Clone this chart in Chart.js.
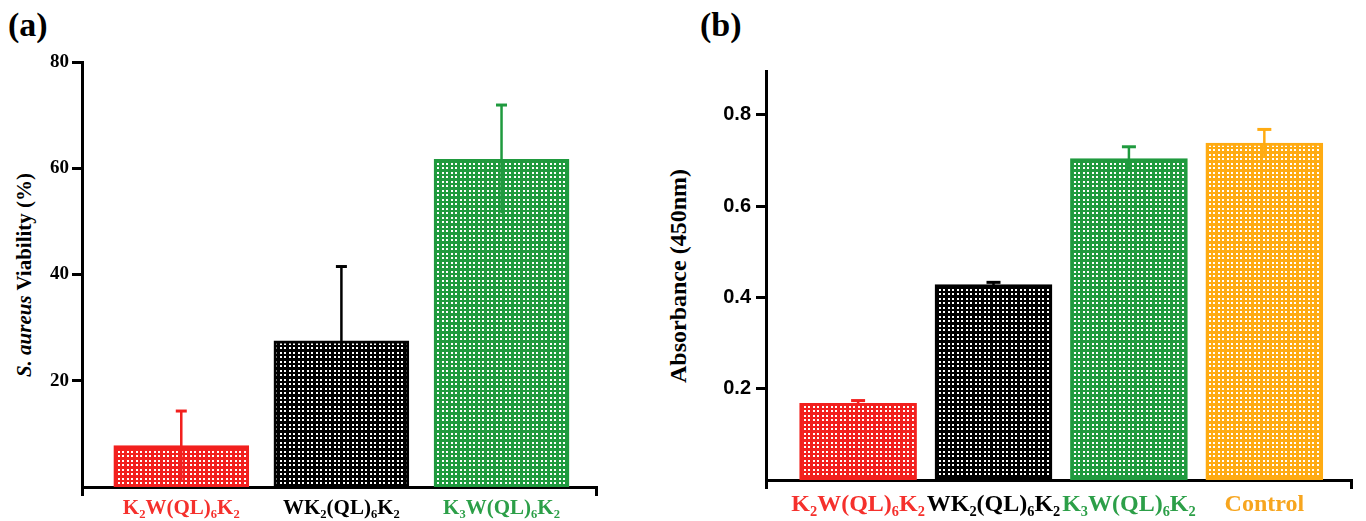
<!DOCTYPE html>
<html lang="en">
<head>
<meta charset="UTF-8">
<title>S. aureus viability and absorbance</title>
<script src="https://cdn.jsdelivr.net/npm/chart.js"></script>
<style>
  body { margin: 0; background: #fff; width: 1366px; height: 521px; overflow: hidden; position: relative; font-family: "Liberation Serif", serif; }
  canvas { position: absolute; top: 0; }
  #chartA { left: 0; }
  #chartB { left: 650px; }
  .panel { position: absolute; font-weight: bold; font-size: 34px; line-height: 1; }
  .ytitle { position: absolute; font-weight: bold; white-space: nowrap; line-height: 1; transform: translate(-50%, -50%) rotate(-90deg); }
</style>
</head>
<body>
<div class="panel" style="left:8px;top:8px">(a)</div>
<div class="panel" style="left:700px;top:8px">(b)</div>
<div class="ytitle" style="left:24px;top:275px;font-size:21px"><i>S. aureus</i> Viability (%)</div>
<div class="ytitle" style="left:678px;top:276px;font-size:24px">Absorbance (450nm)</div>
<canvas id="chartA" width="650" height="521"></canvas>
<canvas id="chartB" width="716" height="521"></canvas>
<script>
// panel (a): viability
const peptidesA = ['K₂W(QL)₆K₂', 'WK₂(QL)₆K₂', 'K₃W(QL)₆K₂'];
const viability = [7.8, 27.5, 61.7];
const viabilityErr = [6.5, 14.0, 10.2];
const ticksA = [20, 40, 60, 80];

// panel (b): absorbance
const peptidesB = ['K₂W(QL)₆K₂', 'WK₂(QL)₆K₂', 'K₃W(QL)₆K₂', 'Control'];
const absorbance = [0.168, 0.428, 0.704, 0.738];
const absorbanceErr = [0.006, 0.005, 0.026, 0.030];
const ticksB = [0.2, 0.4, 0.6, 0.8];

const barColors = ['#f2201e', '#000000', '#1f9a3e', '#ffab12'];
const labelColors = ['#f5302c', '#000000', '#2c9f48', '#f7a51e'];

// white dots on the bar colour, pitch ~4.5px
function dots(color) {
  const c = document.createElement('canvas');
  c.width = 9; c.height = 9;
  const g = c.getContext('2d');
  g.fillStyle = color; g.fillRect(0, 0, 9, 9);
  g.fillStyle = '#fff';
  [1, 5].forEach(x => [1, 5].forEach(y => g.fillRect(x, y, 2, 2)));
  return g.createPattern(c, 'repeat');
}

// error bars: line through the bar, cap on top only
const errorBars = {
  id: 'errorBars',
  afterDatasetsDraw(chart, args, opts) {
    const ctx = chart.ctx;
    const y = chart.scales.y;
    const ds = chart.data.datasets[0];
    chart.getDatasetMeta(0).data.forEach((bar, i) => {
      const v = ds.data[i].y, e = opts.errors[i];
      const top = y.getPixelForValue(v + e);
      const bot = y.getPixelForValue(v - e);
      ctx.save();
      ctx.strokeStyle = barColors[i];
      ctx.lineWidth = opts.lineWidth;
      ctx.beginPath();
      ctx.moveTo(bar.x, bot); ctx.lineTo(bar.x, top);
      ctx.stroke();
      ctx.lineWidth = opts.capWidth;
      ctx.beginPath();
      ctx.moveTo(bar.x - opts.cap / 2, top); ctx.lineTo(bar.x + opts.cap / 2, top);
      ctx.stroke();
      ctx.restore();
    });
  }
};

function makeChart(id, s) {
  const edge = c => c.tick && (c.tick.value === s.xMin || c.tick.value === s.xMax);
  return new Chart(document.getElementById(id), {
    type: 'bar',
    data: {
      datasets: [{
        data: s.values.map((v, i) => ({ x: i, y: v })),
        backgroundColor: s.values.map((v, i) => dots(barColors[i])),
        borderColor: s.values.map((v, i) => barColors[i]),
        borderWidth: 3,
        borderSkipped: false,
        barThickness: s.barThickness
      }]
    },
    options: {
      responsive: false,
      animation: false,
      layout: { padding: s.padding },
      plugins: {
        legend: { display: false },
        tooltip: { enabled: false },
        errorBars: { errors: s.errors, cap: s.cap, lineWidth: s.errLine, capWidth: 3 }
      },
      scales: {
        x: {
          type: 'linear', min: s.xMin, max: s.xMax, offset: false,
          afterBuildTicks: sc => { sc.ticks = [s.xMin, ...s.cats.map((c, i) => i), s.xMax].map(v => ({ value: v })); },
          afterFit: sc => { sc.height = s.xHeight; },
          grid: { display: true, offset: false, drawOnChartArea: false, tickLength: 9, lineWidth: 3,
                  color: c => edge(c) ? '#000' : 'rgba(0,0,0,0)' },
          border: { display: true, color: '#000', width: 3 },
          ticks: {
            autoSkip: false, maxRotation: 0, padding: s.xPad,
            font: { family: 'Liberation Serif', weight: 'bold', size: s.xFont },
            color: c => (c.tick && labelColors[c.tick.value]) || '#000',
            callback: v => (Number.isInteger(v) && s.cats[v] !== undefined) ? s.cats[v] : ''
          }
        },
        y: {
          min: 0, max: s.yMax,
          afterBuildTicks: sc => { sc.ticks = s.yTicks.map(v => ({ value: v })); },
          afterFit: sc => { sc.width = s.yWidth; },
          grid: { drawOnChartArea: false, tickLength: 10, lineWidth: 3, color: '#000' },
          border: { color: '#000', width: 3 },
          ticks: { padding: s.yPad, color: '#000', font: s.yFontSpec, callback: s.fmt }
        }
      }
    },
    plugins: [errorBars]
  });
}

makeChart('chartA', {
  cats: peptidesA, values: viability, errors: viabilityErr, yTicks: ticksA,
  xMin: -0.62, xMax: 2.59, yMax: 80, barThickness: 135,
  padding: { left: 0, right: 54, top: 62, bottom: 0 },
  xHeight: 34, yWidth: 82, xPad: 0, xFont: 21, yPad: 3,
  yFontSpec: { family: 'Liberation Serif', weight: 'bold', size: 19 },
  fmt: v => String(v), cap: 11, errLine: 2.5
});

makeChart('chartB', {
  cats: peptidesB, values: absorbance, errors: absorbanceErr, yTicks: ticksB,
  xMin: -0.68, xMax: 3.64, yMax: 0.896, barThickness: 117,
  padding: { left: 0, right: 15, top: 71, bottom: 0 },
  xHeight: 41, yWidth: 116, xPad: 1, xFont: 24, yPad: 5,
  yFontSpec: { family: 'Liberation Sans', weight: 'bold', size: 20 },
  fmt: v => v.toFixed(1), cap: 14, errLine: 2.5
});
</script>
</body>
</html>
